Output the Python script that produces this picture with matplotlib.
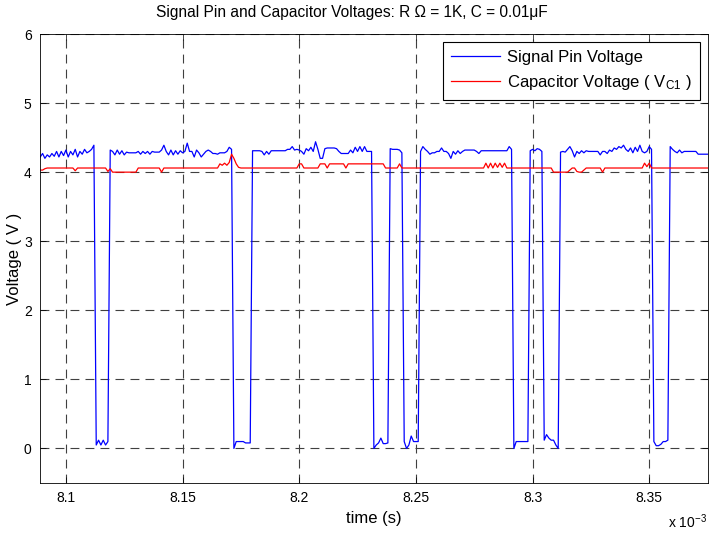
import numpy as np
import matplotlib.pyplot as plt

plt.rcParams['font.family'] = ['Liberation Sans', 'DejaVu Sans']
plt.rcParams['mathtext.fontset'] = 'custom'
plt.rcParams['mathtext.rm'] = 'Liberation Sans'
plt.rcParams['mathtext.it'] = 'Liberation Sans:italic'

# sampled record, 1 us per sample
t_start = 8089e-6
dt = 1e-6

signal_pin = [
    4.22, 4.27, 4.20, 4.25, 4.22, 4.27, 4.23, 4.30, 4.22, 4.30,
    4.24, 4.32, 4.22, 4.30, 4.25, 4.33, 4.22, 4.30, 4.26, 4.33,
    4.28, 4.30, 4.33, 4.39,
    0.05, 0.12, 0.05, 0.12, 0.05, 0.10,
    4.32, 4.30, 4.25, 4.32, 4.26, 4.31, 4.25, 4.29, 4.28, 4.28,
    4.28, 4.28, 4.30, 4.26, 4.30, 4.27, 4.30, 4.26, 4.30, 4.29,
    4.29, 4.29, 4.32, 4.39, 4.30, 4.25, 4.32, 4.25, 4.31, 4.26,
    4.31, 4.28, 4.30, 4.42, 4.30, 4.30, 4.22, 4.32, 4.28, 4.22,
    4.26, 4.30, 4.32, 4.30, 4.27, 4.27, 4.26, 4.28, 4.28, 4.28,
    4.30, 4.36, 4.33,
    0.00, 0.10, 0.10, 0.10, 0.10, 0.08, 0.08, 0.08,
    4.31, 4.31, 4.31, 4.31, 4.30, 4.25, 4.30, 4.26, 4.31, 4.31,
    4.31, 4.31, 4.31, 4.31, 4.31, 4.33, 4.33, 4.37, 4.32, 4.33,
    4.32, 4.30, 4.26, 4.34, 4.31, 4.36, 4.30, 4.44, 4.33, 4.20,
    4.20, 4.34, 4.35, 4.35, 4.35, 4.35, 4.34, 4.30, 4.27, 4.27,
    4.27, 4.27, 4.32, 4.28, 4.36, 4.30, 4.37, 4.30, 4.37, 4.30,
    4.30, 4.30,
    0.00, 0.05, 0.08, 0.15, 0.07, 0.07, 0.08,
    4.34, 4.33, 4.33, 4.33, 4.32, 4.28,
    0.10, 0.00, 0.05, 0.18, 0.10, 0.10, 0.10,
    4.30, 4.37, 4.33, 4.30, 4.26, 4.28, 4.28, 4.30, 4.30, 4.35,
    4.30, 4.30, 4.27, 4.20, 4.30, 4.26, 4.31, 4.27, 4.30, 4.32,
    4.32, 4.32, 4.32, 4.32, 4.30, 4.27, 4.31, 4.31, 4.31, 4.31,
    4.31, 4.31, 4.31, 4.31, 4.31, 4.31, 4.31, 4.31, 4.37, 4.33,
    0.00, 0.10, 0.10, 0.10, 0.10, 0.10, 0.10,
    4.31, 4.33, 4.31, 4.34, 4.33, 4.30,
    0.12, 0.20, 0.15, 0.12, 0.12, 0.05, 0.00,
    4.29, 4.30, 4.29, 4.33, 4.37, 4.31, 4.22, 4.30, 4.27, 4.31,
    4.28, 4.31, 4.30, 4.30, 4.30, 4.30, 4.30, 4.25, 4.30, 4.30,
    4.27, 4.32, 4.30, 4.35, 4.33, 4.37, 4.35, 4.39, 4.33, 4.30,
    4.35, 4.28, 4.36, 4.30, 4.39, 4.30, 4.28, 4.30, 4.37, 4.33,
    0.10, 0.04, 0.04, 0.06, 0.10, 0.10, 0.12,
    4.37, 4.33, 4.30, 4.28, 4.32, 4.28, 4.30, 4.30, 4.30, 4.30,
    4.30, 4.30, 4.26, 4.26, 4.26, 4.26, 4.26,
]

capacitor = (
    [4.03, 4.03, 4.05] + [4.06] * 12 + [4.02] + [4.06] * 13
    + [4.01, 4.05] + [4.00] * 11 + [4.06] * 10 + [4.00] + [4.06] * 24
    + [4.12, 4.10, 4.13, 4.10, 4.14, 4.26, 4.20, 4.12, 4.07]
    + [4.06] * 25 + [4.12] * 2 + [4.06] * 7 + [4.12] * 3 + [4.06]
    + [4.12] * 7 + [4.06] + [4.12] * 16 + [4.06] * 6 + [4.12]
    + [4.06] * 36
    + [4.13, 4.06, 4.13, 4.06, 4.13, 4.07, 4.13, 4.07, 4.13]
    + [4.06] * 20 + [4.00] * 7 + [4.03, 4.06, 4.06, 4.01, 4.00, 4.00, 4.03]
    + [4.06] * 7 + [4.00] + [4.06] * 17 + [4.13, 4.08, 4.13] + [4.06] * 25
)

xticks = [8.10e-3, 8.15e-3, 8.20e-3, 8.25e-3, 8.30e-3, 8.35e-3]
xtick_labels = ['8.1', '8.15', '8.2', '8.25', '8.3', '8.35']
yticks = [0, 1, 2, 3, 4, 5, 6]

t = t_start + dt * np.arange(len(signal_pin))

fig = plt.figure(figsize=(7.09, 5.38), dpi=100)
ax = fig.add_axes([40 / 709, 55 / 538, 668 / 709, 449 / 538])

ax.plot(t, signal_pin, color='b', lw=0.9, label='Signal Pin Voltage')
ax.plot(t, capacitor, color='r', lw=0.9, label='Capacitor Voltage ( V$_{\\mathregular{C1}}$ )')

ax.set_xlim(8088.9e-6, 8375.2e-6)
ax.set_ylim(-0.5, 6)
ax.set_xticks(xticks)
ax.set_xticklabels(xtick_labels)
ax.set_yticks(yticks)
ax.tick_params(direction='in', top=True, right=True, length=4, width=0.5,
               labelsize=10, pad=6)
ax.grid(True, color='0.25', linestyle=(0, (8, 5.5)), linewidth=0.8)
for s in ax.spines.values():
    s.set_linewidth(0.6)

ax.set_xlabel('time (s)', fontsize=12, labelpad=4)
ax.set_ylabel('Voltage ( V )', fontsize=12, labelpad=1)
fig.text(352 / 709, 1 - 12 / 538, 'Signal Pin and Capacitor Voltages: R \u03a9 = 1K, C = 0.01\u03bcF',
         ha='center', va='center', fontsize=11.2)
fig.text(668 / 709, 1 - 522 / 538, 'x 10$^{\\mathregular{-3}}$', ha='left', va='center', fontsize=10)

leg = ax.legend(loc='upper right', bbox_to_anchor=(700 / 709, 496 / 538),
                bbox_transform=fig.transFigure, fancybox=False, framealpha=1,
                edgecolor='black', fontsize=12, handlelength=2.9,
                handletextpad=0.45, labelspacing=0.45, borderpad=0.5,
                borderaxespad=0)
leg.get_frame().set_linewidth(0.8)

plt.savefig('out.png', dpi=100)
